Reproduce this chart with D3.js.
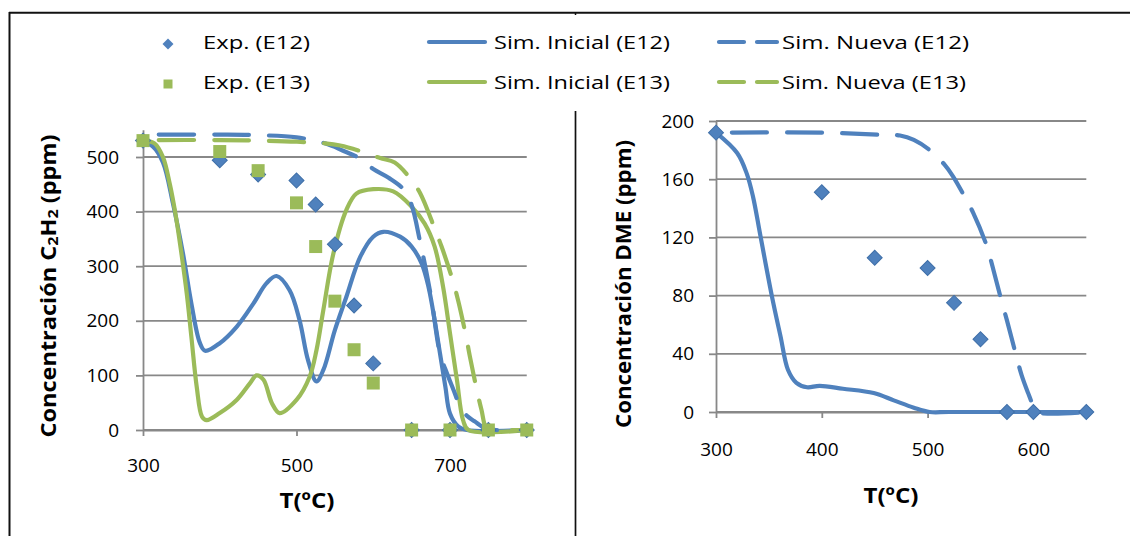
<!DOCTYPE html>
<html>
<head>
<meta charset="utf-8">
<script src="https://cdn.jsdelivr.net/npm/d3@7"></script>
<style>
  html, body { margin: 0; padding: 0; background: #ffffff; }
  svg { display: block; }
  text { font-family: 'Open Sans', 'Liberation Sans', sans-serif; fill: #000; }
</style>
</head>
<body>
<svg id="chart" width="1130" height="536"></svg>
<script>
// ---- C2H2 panel: experimental points ----
const tempExpC2H2 = [300, 400, 450, 500, 525, 550, 575, 600, 650, 700, 750, 800];
const expE12 = [530, 494, 468, 457, 413, 340, 228, 122, 0, 0, 0, 0];
const expE13 = [530, 510, 475, 416, 336, 236, 147, 86, 0, 0, 0, 0];

// ---- C2H2 panel: initial mechanism, E12 ----
const tempSimIniE12 = [300, 313, 326, 339, 352, 363, 374, 381, 400, 422, 444, 461, 474, 491, 504, 515, 526, 535, 550, 565, 583, 600, 613, 635, 650, 663, 672, 680, 687, 694, 700, 711, 722, 800];
const simIniE12 = [527, 519, 490, 415, 324, 232, 160, 145, 159, 189, 232, 269, 282, 256, 201, 128, 89, 110, 183, 244, 317, 354, 363, 354, 336, 305, 262, 201, 140, 79, 30, 6, 0, 0];

// ---- C2H2 panel: initial mechanism, E13 ----
const tempSimIniE13 = [300, 315, 326, 335, 343, 350, 357, 363, 370, 377, 383, 400, 422, 439, 448, 457, 468, 478, 500, 517, 526, 535, 548, 565, 578, 600, 626, 650, 667, 680, 691, 700, 709, 717, 724, 800];
const simIniE13 = [530, 525, 500, 450, 390, 324, 250, 171, 79, 24, 18, 31, 55, 85, 100, 92, 49, 31, 55, 97, 146, 220, 323, 403, 433, 441, 437, 409, 378, 336, 262, 177, 92, 18, 0, 0];

// ---- C2H2 panel: new mechanism, E12 ----
const tempSimNueE12 = [300, 400, 450, 500, 537, 560, 583, 600, 620, 640, 650, 661, 667, 676, 687, 696, 705, 713, 722, 732, 746, 760, 800];
const simNueE12 = [541, 541, 540, 536, 525, 512, 497, 478, 462, 440, 412, 345, 305, 238, 140, 104, 72, 43, 26, 16, 3, 0, 0];

// ---- C2H2 panel: new mechanism, E13 ----
const tempSimNueE13 = [300, 400, 450, 500, 537, 557, 585, 609, 628, 648, 661, 680, 689, 704, 711, 721, 726, 735, 741, 748, 760, 800];
const simNueE13 = [531, 531, 530, 528, 525, 521, 510, 498, 490, 461, 434, 369, 336, 272, 235, 171, 134, 73, 37, 2, 0, 0];

// ---- DME panel ----
const tempExpDME = [300, 400, 450, 500, 525, 550, 575, 600, 650];
const expDME = [192, 151, 106, 99, 75, 50, 0, 0, 0];
const tempSimIniDME = [300, 320, 329, 335, 342, 353, 361, 368, 376, 386, 398, 420, 449, 468, 487, 502, 520, 650];
const simIniDME = [192, 178, 164, 148, 121, 79, 52, 29, 20, 17, 18, 16, 13, 8, 3, 0, 0, 0];
const tempSimNueDME = [300, 400, 455, 474, 487, 502, 516, 524, 535, 543, 556, 561, 570, 575, 584, 589, 595, 600, 603, 650];
const simNueDME = [192, 192, 190.5, 190, 187, 180, 170, 162, 148, 137, 114, 101, 76, 63, 38, 25, 13, 4, 0, 0];

// ---- axis ticks ----
const ticksXC2H2 = [300, 500, 700];
const ticksYC2H2 = [0, 100, 200, 300, 400, 500];
const ticksXDME = [300, 400, 500, 600];
const ticksYDME = [0, 40, 80, 120, 160, 200];

// ---- legend ----
const legendLabels = [
  ["Exp. (E12)", "Sim. Inicial (E12)", "Sim. Nueva (E12)"],
  ["Exp. (E13)", "Sim. Inicial (E13)", "Sim. Nueva (E13)"]
];

const BLUE = "#4F81BD", BLUE_EDGE = "#3F6FA8", GREEN = "#9BBB59", GRID = "#888888";
const LW = 4.2;

const svg = d3.select("#chart");
svg.append("rect").attr("width", 1130).attr("height", 536).attr("fill", "#fff");

// outer frame and panel divider
const frame = svg.append("g").attr("stroke", "#111").attr("stroke-width", 2);
frame.append("line").attr("x1", 9).attr("x2", 1130).attr("y1", 12.8).attr("y2", 12.8);
frame.append("line").attr("x1", 9.5).attr("x2", 9.5).attr("y1", 12).attr("y2", 536);
frame.append("line").attr("x1", 575.5).attr("x2", 575.5).attr("y1", 111).attr("y2", 536).attr("stroke-width", 1.7);
frame.append("line").attr("x1", 575.5).attr("x2", 575.5).attr("y1", 12).attr("y2", 15).attr("stroke-width", 1.5);

const zip = (ts, vs) => ts.map((t, i) => ({ t, v: vs[i] }));

function drawPanel(cfg) {
  const g = svg.append("g");
  const x = cfg.x, y = cfg.y;
  // gridlines
  g.append("g").selectAll("line").data(cfg.yTicks).join("line")
    .attr("x1", x.range()[0]).attr("x2", x.range()[1])
    .attr("y1", d => y(d)).attr("y2", d => y(d))
    .attr("stroke", GRID).attr("stroke-width", 1.8);

  const yAxis = g.append("g").attr("transform", `translate(${x.range()[0]},0)`)
    .call(d3.axisLeft(y).tickValues(cfg.yTicks).tickSize(7).tickSizeOuter(0).tickPadding(cfg.yPad));
  const xAxis = g.append("g").attr("transform", `translate(0,${y(0)})`)
    .call(d3.axisBottom(x).tickValues(cfg.xTicks).tickSize(6).tickSizeOuter(0).tickPadding(cfg.xPad));
  [yAxis, xAxis].forEach(a => {
    a.select(".domain").attr("stroke", GRID).attr("stroke-width", 1.8);
    a.selectAll(".tick line").attr("stroke", GRID).attr("stroke-width", 1.8);
    a.selectAll(".tick text").attr("font-size", 19).attr("font-family", "'Open Sans', 'Liberation Sans', sans-serif").attr("fill", "#000");
  });

  const line = d3.line().x(d => x(d.t)).y(d => y(d.v)).curve(d3.curveCatmullRom.alpha(0.5));
  cfg.lines.forEach(s => {
    g.append("path").datum(s.data).attr("d", line)
      .attr("fill", "none").attr("stroke", s.color).attr("stroke-width", LW)
      .attr("stroke-linecap", "round").attr("stroke-linejoin", "round")
      .attr("stroke-dasharray", s.dashed ? "35,20" : null)
      .attr("stroke-dashoffset", s.dashed ? 39 : null);
  });
  cfg.points.forEach(s => {
    const sym = d3.symbol().type(d3.symbolSquare).size(s.diamond ? 112 : 169);
    g.append("g").selectAll("path").data(s.data).join("path")
      .attr("d", sym())
      .attr("transform", d => `translate(${x(d.t)},${y(d.v)})` + (s.diamond ? " rotate(45)" : ""))
      .attr("fill", s.color)
      .attr("stroke", s.diamond ? BLUE_EDGE : "none").attr("stroke-width", 1);
  });

  // axis titles
  g.append("text").attr("x", cfg.xTitle[0]).attr("y", cfg.xTitle[1])
    .attr("text-anchor", "middle").attr("font-size", 22).attr("font-weight", "bold")
    .attr("textLength", 55).attr("lengthAdjust", "spacingAndGlyphs")
    .text("T(ºC)");
  const yt = g.append("text")
    .attr("transform", `translate(${cfg.yTitle[0]},${cfg.yTitle[1]}) rotate(-90)`)
    .attr("text-anchor", "middle").attr("font-size", 22).attr("font-weight", "bold")
    .attr("textLength", cfg.yTitleLen).attr("lengthAdjust", "spacingAndGlyphs");
  cfg.yTitleParts.forEach(p => {
    yt.append("tspan").text(p.s)
      .attr("font-size", p.sub ? 15 : null)
      .attr("dy", p.sub ? 2 : (p.back ? -2 : null));
  });
}

// C2H2 panel
drawPanel({
  x: d3.scaleLinear().domain([300, 800]).range([143, 526.75]),
  y: d3.scaleLinear().domain([0, 550]).range([430, 129.7]),
  xTicks: ticksXC2H2, yTicks: ticksYC2H2, xPad: 23, yPad: 17,
  lines: [
    { data: zip(tempSimIniE12, simIniE12), color: BLUE },
    { data: zip(tempSimIniE13, simIniE13), color: GREEN },
    { data: zip(tempSimNueE12, simNueE12), color: BLUE, dashed: true },
    { data: zip(tempSimNueE13, simNueE13), color: GREEN, dashed: true }
  ],
  points: [
    { data: zip(tempExpC2H2, expE12), color: BLUE, diamond: true },
    { data: zip(tempExpC2H2, expE13), color: GREEN }
  ],
  xTitle: [307, 508],
  yTitle: [56, 286], yTitleLen: 303,
  yTitleParts: [{ s: "Concentración C" }, { s: "2", sub: true }, { s: "H", back: true }, { s: "2", sub: true }, { s: " (ppm)", back: true }]
});

// DME panel
drawPanel({
  x: d3.scaleLinear().domain([300, 650]).range([716, 1086.3]),
  y: d3.scaleLinear().domain([0, 200]).range([412, 121]),
  xTicks: ticksXDME, yTicks: ticksYDME, xPad: 25, yPad: 15,
  lines: [
    { data: zip(tempSimIniDME, simIniDME), color: BLUE },
    { data: zip(tempSimNueDME, simNueDME), color: BLUE, dashed: true }
  ],
  points: [
    { data: zip(tempExpDME, expDME), color: BLUE, diamond: true }
  ],
  xTitle: [891, 503],
  yTitle: [631, 284], yTitleLen: 288,
  yTitleParts: [{ s: "Concentración DME (ppm)" }]
});

// legend
const legend = svg.append("g");
const rowY = [42, 82];
const textX = [203, 494, 782];
const textW = [[107, 176, 187], [107, 176, 184]];
legendLabels.forEach((row, r) => {
  const cy = rowY[r];
  const color = r === 0 ? BLUE : GREEN;
  // marker
  legend.append("path")
    .attr("d", d3.symbol().type(d3.symbolSquare).size(r === 0 ? 60 : 81)())
    .attr("transform", `translate(168,${cy + 2})` + (r === 0 ? " rotate(45)" : ""))
    .attr("fill", color);
  // solid sample
  legend.append("line").attr("x1", 429).attr("x2", 485).attr("y1", cy).attr("y2", cy)
    .attr("stroke", color).attr("stroke-width", LW).attr("stroke-linecap", "round");
  // dashed sample
  legend.append("line").attr("x1", 719).attr("x2", 777).attr("y1", cy).attr("y2", cy)
    .attr("stroke", color).attr("stroke-width", LW).attr("stroke-linecap", "round")
    .attr("stroke-dasharray", "25,13");
  row.forEach((label, i) => {
    legend.append("text").attr("x", textX[i]).attr("y", cy + 6.5)
      .attr("font-size", 18)
      .attr("textLength", textW[r][i]).attr("lengthAdjust", "spacingAndGlyphs")
      .text(label);
  });
});
</script>
</body>
</html>
